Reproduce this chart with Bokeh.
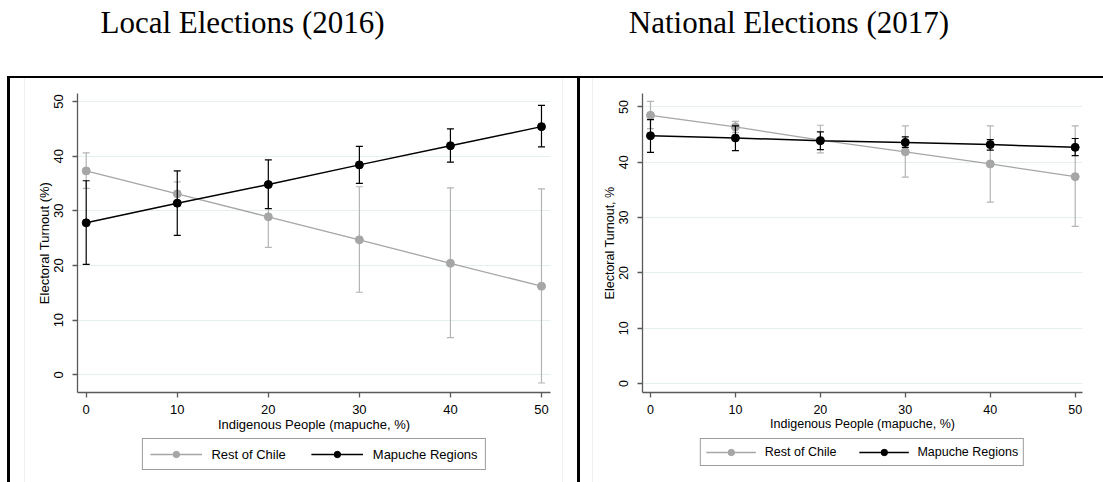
from bokeh.plotting import figure
from bokeh.layouts import column, row
from bokeh.models import Div, Legend, LegendItem, Range1d, ColumnDataSource, FixedTicker, Label
from bokeh.embed import file_html
from bokeh.resources import INLINE

# ---------------- data ----------------
x_vals = [0, 10, 20, 30, 40, 50]
x_ticks = [0, 10, 20, 30, 40, 50]
y_ticks = [0, 10, 20, 30, 40, 50]

titles = ["Local Elections (2016)", "National Elections (2017)"]
series_names = ["Rest of Chile", "Mapuche Regions"]
x_label = "Indigenous People (mapuche, %)"
y_labels = ["Electoral Turnout (%)", "Electoral Turnout, %"]

# Local elections 2016
rest_local = [37.3, 33.1, 28.9, 24.7, 20.4, 16.2]
rest_local_lo = [34.1, 30.9, 23.3, 15.1, 6.8, -1.5]
rest_local_hi = [40.6, 35.3, 34.5, 34.4, 34.2, 34.0]
mapu_local = [27.8, 31.4, 34.8, 38.4, 41.9, 45.4]
mapu_local_lo = [20.2, 25.5, 30.4, 35.0, 38.9, 41.7]
mapu_local_hi = [35.5, 37.3, 39.3, 41.8, 45.0, 49.3]

# National elections 2017
rest_nat = [48.5, 46.4, 44.0, 41.9, 39.7, 37.4]
rest_nat_lo = [46.1, 45.4, 41.7, 37.3, 32.8, 28.4]
rest_nat_hi = [51.0, 47.4, 46.7, 46.6, 46.6, 46.6]
mapu_nat = [44.8, 44.4, 43.9, 43.6, 43.2, 42.7]
mapu_nat_lo = [41.8, 42.1, 42.3, 42.7, 42.2, 41.2]
mapu_nat_hi = [47.7, 46.6, 45.5, 44.6, 44.1, 44.3]

# ---------------- style ----------------
GRAY = "#a6a6a6"
GRAY_CI = "#b4b4b4"
BLACK = "#000000"
AXIS = "#5a5a5a"
GRID = "#e6eff0"
FAINT = "#efefef"
SANS = "Liberation Sans"
SERIF = "Liberation Serif"


def panel(width, min_left, min_right, xr, yr, ylabel, series, font_px, leg):
    p = figure(width=width, height=360, x_range=Range1d(*xr), y_range=Range1d(*yr),
               output_backend="svg", toolbar_location=None,
               min_border_left=min_left, min_border_right=min_right,
               min_border_top=15, min_border_bottom=46)
    p.outline_line_color = None
    p.xgrid.grid_line_color = None
    p.ygrid.grid_line_color = GRID
    p.ygrid.grid_line_width = 1
    p.xaxis.ticker = FixedTicker(ticks=x_ticks)
    p.yaxis.ticker = FixedTicker(ticks=y_ticks)
    p.xaxis.axis_label = x_label
    p.yaxis.axis_label = ylabel
    for ax in (p.xaxis[0], p.yaxis[0]):
        ax.axis_line_color = AXIS
        ax.axis_line_width = 1.3
        ax.major_tick_line_color = AXIS
        ax.major_tick_line_width = 1.3
        ax.major_tick_out = 5
        ax.major_tick_in = 0
        ax.minor_tick_line_color = None
        ax.major_label_text_font = SANS
        ax.major_label_text_font_size = font_px
        ax.major_label_text_color = "#000000"
        ax.axis_label_text_font = SANS
        ax.axis_label_text_font_size = font_px
        ax.axis_label_text_font_style = "normal"
        ax.axis_label_text_color = "#000000"
        ax.axis_label_standoff = 0
    p.xaxis.major_label_standoff = 7
    p.yaxis.major_label_standoff = 9
    p.yaxis.major_label_orientation = "vertical"

    for name, y, lo, hi, color, ci_color, lw in series:
        src = ColumnDataSource(dict(x=x_vals, y=y, lo=lo, hi=hi))
        p.segment(x0="x", y0="lo", x1="x", y1="hi", source=src, line_color=ci_color, line_width=1.2)
        p.scatter("x", "hi", marker="dash", size=7, source=src, line_color=ci_color, line_width=1.2)
        p.scatter("x", "lo", marker="dash", size=7, source=src, line_color=ci_color, line_width=1.2)
        p.line("x", "y", source=src, line_color=color, line_width=lw)
        p.scatter("x", "y", marker="circle", size=8, source=src, fill_color=color, line_color=color)

    # legend strip below the panel (its own small figure, same frame width)
    lf = figure(width=width, height=44, x_range=Range1d(1000, 1001), y_range=Range1d(1000, 1001),
                output_backend="svg", toolbar_location=None,
                x_axis_type=None, y_axis_type=None,
                min_border_left=min_left, min_border_right=min_right,
                min_border_top=0, min_border_bottom=0)
    lf.outline_line_color = None
    lf.xgrid.visible = False
    lf.ygrid.visible = False
    items = []
    for name, y, lo, hi, color, ci_color, lw in series:
        src = ColumnDataSource(dict(x=x_vals, y=y))
        ln = lf.line("x", "y", source=src, line_color=color, line_width=lw)
        sc = lf.scatter("x", "y", marker="circle", size=8, source=src, fill_color=color, line_color=color)
        items.append(LegendItem(label=name, renderers=[ln, sc]))
    legend = Legend(items=items, orientation="horizontal", location="top_center",
                    glyph_width=leg["gw"], glyph_height=16, label_height=16,
                    label_standoff=leg["ls"], spacing=leg["sp"], padding=leg["pad"], margin=0,
                    border_line_color="#3a3a3a", border_line_width=1.2,
                    background_fill_color="white", background_fill_alpha=1,
                    label_text_font=SANS, label_text_font_size=font_px,
                    label_text_color="#000000")
    lf.add_layout(legend, "center")
    return column(p, lf, spacing=0)


left = panel(537, 52, 12, (-0.956, 50.99), (-3.24, 51.46), y_labels[0],
             [(series_names[0], rest_local, rest_local_lo, rest_local_hi, GRAY, GRAY_CI, 1.3),
              (series_names[1], mapu_local, mapu_local_lo, mapu_local_hi, BLACK, BLACK, 1.5)],
             "13px", dict(gw=52, ls=10, sp=25, pad=7))

right = panel(510, 49, 21, (-0.94, 50.86), (-1.63, 52.44), y_labels[1],
              [(series_names[0], rest_nat, rest_nat_lo, rest_nat_hi, GRAY, GRAY_CI, 1.3),
               (series_names[1], mapu_nat, mapu_nat_lo, mapu_nat_hi, BLACK, BLACK, 1.5)],
              "12.5px", dict(gw=50, ls=9, sp=22, pad=5))

# title strip
tfig = figure(width=1103, height=76, x_range=Range1d(0, 1), y_range=Range1d(0, 1),
              output_backend="svg", toolbar_location=None,
              x_axis_type=None, y_axis_type=None,
              min_border_left=0, min_border_right=0, min_border_top=0, min_border_bottom=0)
tfig.outline_line_color = None
tfig.xgrid.visible = False
tfig.ygrid.visible = False
for txt, xpos in zip(titles, [100, 628.3]):
    tfig.add_layout(Label(x=xpos, y=54.5, x_units="screen", y_units="screen", text=txt,
                          text_font=SERIF, text_font_size="31px", text_color="#000000",
                          text_baseline="alphabetic", text_align="left"))

def bar(w, h, color):
    return Div(text="", width=w, height=h, margin=(0, 0, 0, 0), styles={"background-color": color})

H = 404
hline_row = row(bar(7, 2, "#ffffff"), bar(1096, 2, "#000000"), spacing=0)
panels_row = row(bar(7, H, "#ffffff"), bar(3, H, "#000000"), bar(14, H, "#ffffff"), bar(1, H, FAINT),
                 left,
                 bar(1, H, FAINT), bar(14, H, "#ffffff"), bar(3, H, "#000000"),
                 bar(12, H, "#ffffff"), bar(1, H, FAINT),
                 right, spacing=0)

layout = column(tfig, hline_row, panels_row, spacing=0)

open("out.html", "w").write(file_html(layout, INLINE))
